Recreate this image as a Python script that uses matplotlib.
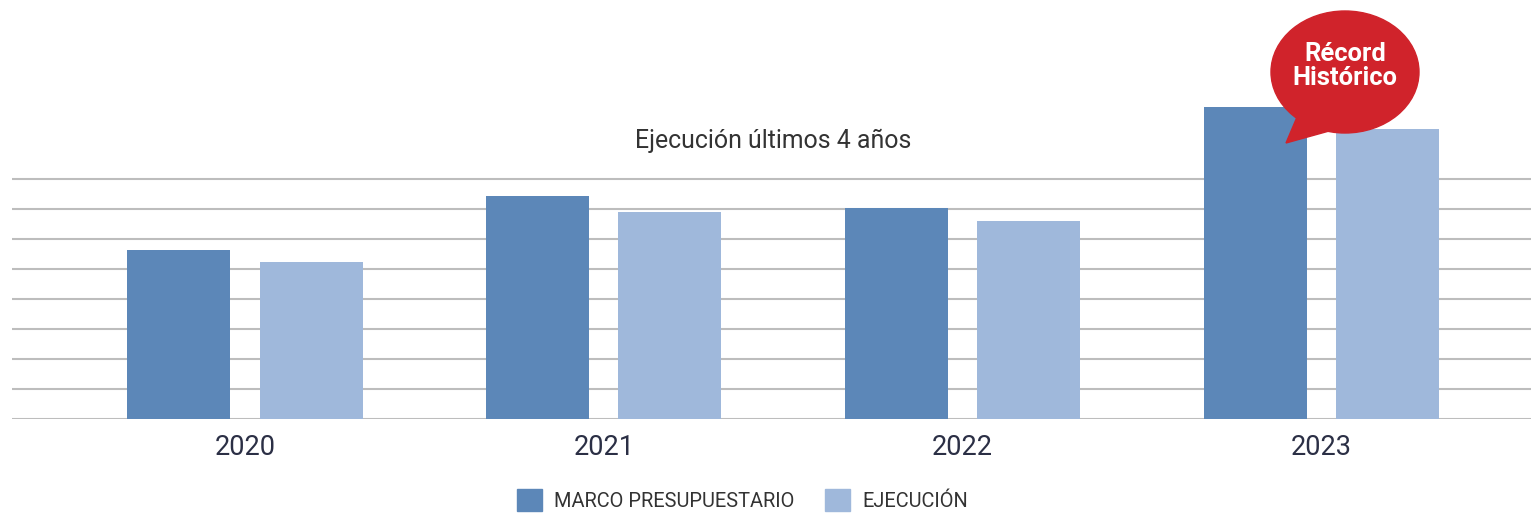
import numpy as np
import matplotlib
matplotlib.use("Agg")
import matplotlib.pyplot as plt
from matplotlib.patches import Ellipse, Polygon, Patch

years = ["2020", "2021", "2022", "2023"]
marco = [5.63, 7.43, 7.03, 10.4]
ejecucion = [5.23, 6.9, 6.6, 9.67]

plt.rcParams["font.family"] = ["Roboto", "DejaVu Sans"]

DARK = "#5c87b8"
LIGHT = "#9fb8db"
RED = "#d0232b"

fig = plt.figure(figsize=(15.31, 5.15), dpi=100)
ax = fig.add_axes([12 / 1531, 1 - 419 / 515, 1 - 12 / 1531, 419 / 515])

x = np.arange(len(years))
w = 0.287
off = 0.184
ax.bar(x - off, marco, w, color=DARK, zorder=3, clip_on=False)
ax.bar(x + off, ejecucion, w, color=LIGHT, zorder=3, clip_on=False)

# category spacing ~359 px, first group centred at ~245 px
ax.set_xlim((12 - 245) / 358.85, (1531 - 245) / 358.85)
ax.set_ylim(0, 419 / 30)
ax.set_yticks(range(9))
ax.yaxis.grid(True, color="#bdbdbd", linewidth=1.5, zorder=0)
ax.set_axisbelow(True)
ax.tick_params(axis="y", length=0, labelleft=False)
ax.tick_params(axis="x", length=0, pad=11, labelsize=19.5, labelcolor="#2b2f45")
ax.set_xticks(x)
ax.set_xticklabels(years)
for s in ax.spines.values():
    s.set_visible(False)

fig.text(773 / 1531, 1 - 141 / 515, "Ejecución últimos 4 años", ha="center", va="center",
         fontsize=17.9, color="#333333")

# speech bubble over 2023
bx, by = 1345 / 1531, 1 - 72 / 515
bubble = Ellipse((bx, by), 148 / 1531, 122 / 515, transform=fig.transFigure,
                 color=RED, zorder=5)
fig.patches.append(bubble)
tail = Polygon([(1300 / 1531, 1 - 110 / 515), (1286 / 1531, 1 - 143 / 515),
                (1340 / 1531, 1 - 128 / 515)], closed=True, transform=fig.transFigure,
               color=RED, zorder=5)
fig.patches.append(tail)
fig.text(bx, 1 - 66 / 515, "Récord\nHistórico", ha="center", va="center", fontsize=18.4,
         fontweight="bold", color="white", linespacing=1.0, zorder=6)

handles = [Patch(color=DARK, label="MARCO PRESUPUESTARIO"),
           Patch(color=LIGHT, label="EJECUCIÓN")]
fig.legend(handles=handles, loc="center", bbox_to_anchor=(0.485, 1 - 500 / 515), ncol=2,
           frameon=False, fontsize=14.4, handlelength=1.25, handleheight=1.25,
           columnspacing=1.55, handletextpad=0.6, labelcolor="#333333")

fig.savefig("out.png", dpi=100)
